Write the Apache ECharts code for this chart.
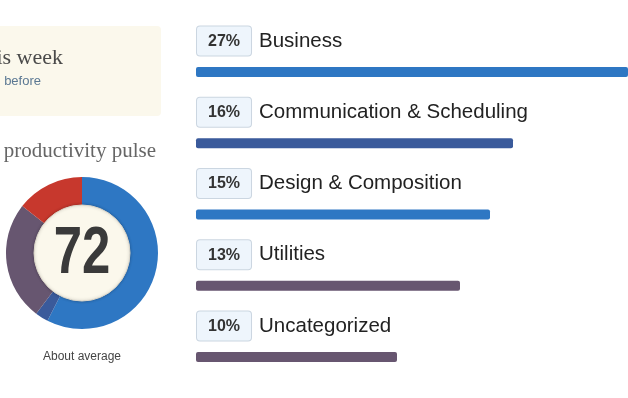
<!DOCTYPE html>
<html>
<head>
<meta charset="utf-8">
<script src="https://cdn.jsdelivr.net/npm/echarts@6/dist/echarts.min.js"></script>
<style>html,body{margin:0;padding:0;background:#fff}#c{width:628px;height:398px}</style>
</head>
<body>
<div id="c"></div>
<script>
// Category breakdown
var categories = ['Business', 'Communication & Scheduling', 'Design & Composition', 'Utilities', 'Uncategorized'];
var shareValues = [27.2, 15.85, 14.7, 13.2, 10.05];
var shareLabels = ['27%', '16%', '15%', '13%', '10%'];
var barColors = ['#2e77c3', '#3a5a9b', '#2e77c3', '#675670', '#675670'];

// Productivity pulse
var pulseScore = 72;
var pulseParts = ['Very productive', 'Productive', 'Neutral', 'Distracting'];
var pulseValues = [57.5, 2.8, 25.3, 14.4];
var pulseColors = ['#2e77c3', '#3a5a9b', '#675670', '#c7382d'];

var chart = echarts.init(document.getElementById('c'), null, {renderer: 'canvas'});
var SANS = 'Helvetica, "Liberation Sans", Arial, sans-serif';
var SERIF = 'Georgia, "Liberation Serif", serif';

chart.setOption({
  animation: false,
  backgroundColor: '#ffffff',
  grid: {left: 196, top: 36.4, right: 0, height: 356.25, containLabel: false},
  xAxis: {type: 'value', min: 0, max: 21.6, show: false},
  yAxis: {type: 'category', data: categories, inverse: true, show: false},
  graphic: [
    {type: 'rect', shape: {x: -10, y: 26, width: 171, height: 90, r: 4}, style: {fill: '#fbf8ec'}, z: -1},
    {type: 'text', style: {x: 63, y: 58, text: 'is week', textAlign: 'right', textVerticalAlign: 'middle', font: '22px ' + SERIF, fill: '#4a4a4a'}},
    {type: 'text', style: {x: 41, y: 81, text: 'before', textAlign: 'right', textVerticalAlign: 'middle', font: '13px ' + SANS, fill: '#5b7893'}},
    {type: 'text', style: {x: 156, y: 151, text: 'productivity pulse', textAlign: 'right', textVerticalAlign: 'middle', font: '21px ' + SERIF, fill: '#666666'}},
    {type: 'text', style: {x: 82, y: 357, text: 'About average', textAlign: 'center', textVerticalAlign: 'middle', font: '12px ' + SANS, fill: '#444444'}},
    {type: 'text', x: 82, y: 255, scaleX: 0.76, z: 10,
     style: {x: 0, y: 0, text: String(pulseScore), textAlign: 'center', textVerticalAlign: 'middle',
             font: 'bold 67px "Liberation Sans", Arial, sans-serif', fill: '#3a3a3a'}}
  ],
  series: [
    {
      type: 'bar',
      data: shareValues.map(function (v, i) { return {value: v, itemStyle: {color: barColors[i]}}; }),
      barWidth: 10,
      itemStyle: {borderRadius: 2},
      label: {
        show: true,
        position: [1, -40],
        formatter: function (p) { return '{badge|' + shareLabels[p.dataIndex] + '}{name|' + categories[p.dataIndex] + '}'; },
        rich: {
          badge: {fontFamily: SANS, fontSize: 16, fontWeight: 'bold', color: '#333333', lineHeight: 16,
                  backgroundColor: '#eef5fc', borderColor: '#cbd6e1', borderWidth: 1, borderRadius: 3,
                  padding: [7, 11, 6, 11]},
          name: {fontFamily: SANS, fontSize: 20.5, color: '#222222', padding: [0, 0, 0, 8], lineHeight: 28}
        }
      }
    },
    {
      type: 'pie',
      center: [82, 253],
      radius: [46, 76],
      startAngle: 90,
      clockwise: true,
      label: {show: false},
      labelLine: {show: false},
      silent: true,
      data: pulseValues.map(function (v, i) { return {name: pulseParts[i], value: v, itemStyle: {color: pulseColors[i]}}; })
    },
    {
      type: 'pie',
      center: [82, 253],
      radius: [0, 48],
      silent: true,
      z: 3,
      itemStyle: {color: '#fbf8ec', borderColor: '#ddd8cb', borderWidth: 1, shadowBlur: 3, shadowColor: 'rgba(0,0,0,0.25)'},
      label: {show: false},
      labelLine: {show: false},
      data: [{name: 'score', value: 1}]
    }
  ]
});
</script>
</body>
</html>
